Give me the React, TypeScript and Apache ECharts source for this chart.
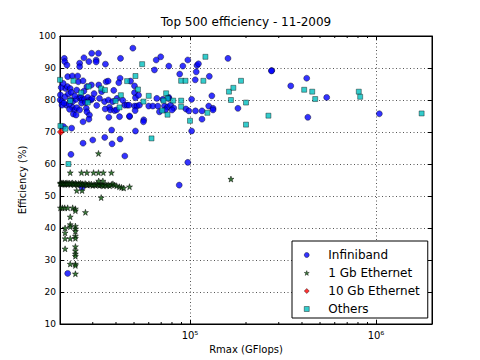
import React, { useEffect, useRef } from "react";
import * as echarts from "echarts";

const seriesNames = ["Infiniband", "1 Gb Ethernet", "10 Gb Ethernet", "Others"];
const yTicks = [10, 20, 30, 40, 50, 60, 70, 80, 90, 100];
const xMinorTicks = [30000, 40000, 50000, 60000, 70000, 80000, 90000, 200000, 300000, 400000, 500000, 600000, 700000, 800000, 900000];

// [Rmax (GFlops), Efficiency (%)]
const infiniband: number[][] = [
  [21100, 93.0], [21200, 92.0], [21800, 90.9], [25500, 91.5], [25500, 90.4], [26900, 93.2], [28600, 92.0],
  [29600, 94.6], [32200, 94.6], [31300, 92.5], [31300, 91.9], [35100, 91.2], [49300, 96.2], [42300, 93.0],
  [65800, 92.5], [69600, 93.5], [76900, 90.6], [91500, 90.6], [97300, 92.5], [160000, 93.0],
  [106700, 86.3], [108000, 88.8], [109000, 90.8], [111000, 91.3], [88000, 88.1], [127000, 87.4],
  [275000, 89.2], [274000, 89.1], [348000, 84.4], [424000, 86.8], [543000, 80.8], [1042000, 75.7],
  [430000, 74.6], [181000, 77.4], [131000, 81.3], [102000, 80.2], [76900, 80.8],
  [72900, 78.1], [75700, 77.8], [78600, 78.4], [81800, 77.5], [73800, 76.9], [80100, 76.9], [95000, 77.2],
  [98500, 76.6], [107000, 76.6], [116000, 76.6], [126000, 78.1], [133000, 77.4], [133000, 76.9],
  [116000, 74.0], [102000, 70.3], [97300, 60.5], [87500, 53.4],
  [21400, 83.6], [21900, 84.2], [22700, 83.6], [24600, 83.1], [25100, 85.7], [22000, 87.3], [23300, 87.5],
  [24900, 87.5], [26900, 82.8], [27900, 84.2], [29500, 84.7], [32300, 84.7], [35400, 85.7], [36300, 85.9],
  [42100, 86.8], [41400, 85.4], [47900, 85.9],
  [20100, 81.6], [20050, 80.0], [20500, 79.5], [21300, 81.0], [22200, 81.9], [22800, 80.0], [23400, 79.5],
  [24400, 80.2], [25500, 80.8], [26000, 80.8], [26300, 80.0], [27100, 80.2], [28200, 80.8], [28800, 80.0],
  [29400, 80.0], [29800, 80.5], [26100, 79.0], [27400, 79.2], [32600, 80.5], [34700, 79.5], [36400, 80.0],
  [38400, 79.5], [44600, 78.4], [45900, 78.4], [47000, 78.4], [50300, 78.1], [51800, 78.1], [53500, 78.4],
  [60000, 78.1], [63100, 78.1], [67100, 78.1], [71400, 80.2],
  [21600, 78.4], [23300, 77.7], [23900, 76.9], [24600, 77.6], [25500, 76.9], [23600, 75.6], [24400, 75.3],
  [22500, 77.1], [27700, 77.4], [27900, 76.3], [28800, 75.3], [28600, 74.0], [26600, 73.2], [36900, 77.7],
  [37300, 76.9], [39300, 76.7], [40300, 76.9], [36600, 74.6], [41800, 74.8], [50700, 76.7], [47300, 74.8],
  [56400, 73.8],
  [30000, 67.5], [38100, 66.3], [42100, 67.8], [50900, 70.3], [37900, 70.6], [44600, 62.5], [22900, 63.0],
  [23100, 71.2], [20900, 71.7], [22000, 25.8], [26600, 66.5], [34800, 68.3], [20500, 78.4],
  [64400, 89.4], [50300, 84.4], [50300, 82.3], [50900, 80.7], [52900, 81.5], [66300, 80.5], [76700, 80.5],
  [68500, 76.3], [56200, 73.2], [47300, 75.0], [26300, 52.7],
  [20300, 83.9], [20800, 85.2], [21000, 79.0], [22400, 78.7], [23000, 82.4], [24000, 81.3], [26600, 86.0],
  [30500, 82.0], [31500, 78.3], [33500, 82.6], [35000, 77.2], [38900, 83.0], [40500, 80.5], [43500, 79.9]
];

const gigabit: number[][] = [
  [20050, 53.9], [20200, 54.1], [20350, 53.8], [20500, 54.0], [20650, 53.7], [20800, 54.1], [21000, 53.9],
  [21200, 53.6], [21400, 54.0], [21600, 53.8], [21800, 54.1], [22000, 53.7], [22200, 53.9], [22500, 54.0],
  [22800, 53.6], [23000, 53.9], [23300, 54.1], [23600, 53.8], [23900, 53.6], [24200, 54.0], [24500, 53.8],
  [24800, 53.5], [25100, 53.9], [25400, 53.7], [25800, 54.0], [26100, 53.6], [26500, 53.8], [26900, 53.5],
  [27300, 53.9], [27700, 53.6], [28100, 53.4], [28600, 53.8], [29000, 53.5], [29500, 53.7], [30000, 53.3],
  [30500, 53.6], [31000, 53.4], [31500, 53.8], [32000, 53.5], [32600, 53.3], [33100, 53.6], [33700, 53.4],
  [34300, 53.2], [35000, 53.7], [35600, 53.3], [36300, 53.5], [37000, 53.2], [37800, 53.6], [38500, 53.8],
  [39200, 53.4], [40300, 53.2], [41700, 52.9], [42800, 52.7], [44000, 52.5], [47300, 52.9],
  [22700, 57.3], [26100, 57.3], [27900, 57.3], [30300, 57.3], [32200, 57.3], [34200, 57.3], [37800, 57.3],
  [32200, 63.3], [32300, 54.7], [34000, 54.7], [24600, 51.7], [26300, 51.7], [33300, 49.5], [27400, 44.9],
  [20100, 46.3], [20600, 46.3], [21200, 46.3], [22000, 46.3], [23400, 46.3], [24200, 46.0], [24200, 45.4],
  [22700, 43.5], [22700, 41.1], [22700, 40.4], [21300, 40.0], [24200, 40.6], [24200, 39.8], [21300, 38.5],
  [24200, 39.0], [24200, 37.5], [24200, 36.8], [21300, 36.7], [22700, 36.7], [21300, 33.5], [24200, 34.2],
  [24200, 32.9], [24200, 31.9], [24200, 31.2], [22700, 28.75], [24200, 28.75], [24200, 28.3], [24200, 25.7],
  [166000, 55.3]
];

const tenGigabit: number[][] = [[20200, 70.0]];

const others: number[][] = [
  [20000, 86.3], [23600, 86.0], [26000, 82.3], [28500, 84.2], [33300, 83.6], [34900, 83.1], [45900, 85.9],
  [50900, 87.5], [55300, 91.2], [22700, 79.7], [28200, 79.2], [39800, 79.7], [42500, 81.5], [56200, 79.5],
  [60000, 81.3], [21400, 71.0], [20100, 71.9], [62100, 68.0], [22200, 60.0], [74400, 82.1], [75700, 80.5],
  [72000, 79.8], [81200, 79.8], [89600, 79.8], [89600, 77.9], [75700, 75.4], [70900, 76.7], [124000, 76.0],
  [100000, 73.5], [89600, 86.0], [94600, 86.0], [118000, 86.0], [121000, 93.5], [188000, 86.0],
  [162000, 82.6], [171000, 83.8], [166000, 80.0], [200000, 79.2], [200000, 72.3], [264000, 75.1],
  [411000, 83.2], [454000, 82.6], [471000, 80.3], [808000, 82.6], [822000, 81.0], [1759000, 75.8],
  [52500, 83.3], [41800, 77.7]
];

const STAR = "path://M50,0 L61.8,35.1 L97.6,34.5 L69.1,56.7 L79.4,90.5 L50,70 L20.6,90.5 L30.9,56.7 L2.4,34.5 L38.2,35.1 Z";
const FONT = "DejaVu Sans";
const SUP: Record<string, string> = { "0": "⁰", "1": "¹", "2": "²", "3": "³", "4": "⁴", "5": "⁵", "6": "⁶", "7": "⁷", "8": "⁸", "9": "⁹" };
const symbols = ["circle", STAR, "diamond", "rect"];

export default function App() {
  const ref = useRef<HTMLDivElement>(null);
  useEffect(() => {
    if (!ref.current) return;
    const chart = echarts.init(ref.current, null, { renderer: "svg" });
    const edge = { borderColor: "#000", borderWidth: 0.5 };
    const option: any = {
      animation: false,
      backgroundColor: "#fff",
      title: {
        text: "Top 500 efficiency - 11-2009",
        left: 246,
        top: 16,
        padding: 0,
        textAlign: "center",
        textStyle: { fontFamily: FONT, fontSize: 12, fontWeight: "normal", color: "#000" },
      },
      grid: { left: 60, top: 36, width: 372, height: 288, show: true, borderColor: "#000", borderWidth: 1, backgroundColor: "transparent" },
      legend: {
        data: seriesNames.map((n, i) => ({ name: n, icon: symbols[i] })),
        orient: "vertical",
        left: 292,
        top: 241,
        padding: [8, 8, 3, 12],
        itemWidth: 5,
        itemHeight: 5,
        itemGap: 6,
        symbolKeepAspect: true,
        itemStyle: { borderColor: "#000", borderWidth: 0.5 },
        borderColor: "#000",
        borderWidth: 1,
        borderRadius: 0,
        backgroundColor: "#fff",
        textStyle: { fontFamily: FONT, fontSize: 12, color: "#000", padding: [0, 0, 0, 14] },
      },
      xAxis: [
        {
          type: "log",
          logBase: 10,
          min: 20000,
          max: 2000000,
          name: "Rmax (GFlops)",
          nameLocation: "middle",
          nameGap: 19,
          nameTextStyle: { fontFamily: FONT, fontSize: 10, color: "#000" },
          axisLine: { show: true, lineStyle: { color: "#000", width: 1 } },
          axisTick: { show: true, inside: true, length: 4, lineStyle: { color: "#000" } },
          axisLabel: {
            margin: 6,
            fontFamily: FONT,
            fontSize: 10,
            color: "#000",
            showMinLabel: false,
            showMaxLabel: false,
            formatter: (v: number) => {
              const e = Math.log10(v);
              const r = Math.round(e);
              if (Math.abs(e - r) > 1e-6) return "";
              return "10" + String(r).split("").map((c) => SUP[c] || c).join("");
            },
          },
          splitLine: { show: true, lineStyle: { color: "#555", width: 1, type: [1, 2.5] } },
        },
        {
          type: "log",
          logBase: 10,
          min: 20000,
          max: 2000000,
          position: "top",
          axisLine: { show: true, lineStyle: { color: "#000", width: 1 } },
          axisTick: { show: true, inside: true, length: 4, lineStyle: { color: "#000" } },
          axisLabel: { show: false },
          splitLine: { show: false },
        },
      ],
      yAxis: [
        {
          type: "value",
          min: yTicks[0],
          max: yTicks[yTicks.length - 1],
          interval: 10,
          name: "Efficiency (%)",
          nameLocation: "middle",
          nameGap: 26,
          nameRotate: 90,
          nameTextStyle: { fontFamily: FONT, fontSize: 10, color: "#000" },
          axisLine: { show: true, lineStyle: { color: "#000", width: 1 } },
          axisTick: { show: true, inside: true, length: 4, lineStyle: { color: "#000" } },
          axisLabel: { margin: 4, fontFamily: FONT, fontSize: 9, color: "#000" },
          splitLine: { show: true, lineStyle: { color: "#555", width: 1, type: [1, 2.5] } },
        },
        {
          type: "value",
          min: yTicks[0],
          max: yTicks[yTicks.length - 1],
          interval: 10,
          position: "right",
          axisLine: { show: true, lineStyle: { color: "#000", width: 1 } },
          axisTick: { show: true, inside: true, length: 4, lineStyle: { color: "#000" } },
          axisLabel: { show: false },
          splitLine: { show: false },
        },
      ],
      series: [
        {
          name: seriesNames[0],
          type: "scatter",
          symbol: symbols[0],
          symbolSize: 6,
          data: infiniband,
          itemStyle: { color: "#0000ff", ...edge },
        },
        {
          name: seriesNames[1],
          type: "scatter",
          symbol: symbols[1],
          symbolSize: 6,
          data: gigabit,
          itemStyle: { color: "#0b5a0b", borderColor: "#000", borderWidth: 0.6 },
        },
        {
          name: seriesNames[2],
          type: "scatter",
          symbol: symbols[2],
          symbolSize: 7,
          data: tenGigabit,
          itemStyle: { color: "#ff0000", ...edge },
        },
        {
          name: seriesNames[3],
          type: "scatter",
          symbol: symbols[3],
          symbolSize: 5,
          data: others,
          itemStyle: { color: "#00bfbf", ...edge },
        },
        {
          type: "custom",
          silent: true,
          clip: false,
          z: 5,
          data: xMinorTicks.map((v) => [v, yTicks[0]]),
          renderItem: (params: any, api: any) => {
            const b = api.coord([api.value(0), yTicks[0]]);
            const t = api.coord([api.value(0), yTicks[yTicks.length - 1]]);
            return {
              type: "group",
              children: [
                { type: "line", shape: { x1: b[0], y1: b[1], x2: b[0], y2: b[1] - 2 }, style: { stroke: "#000", lineWidth: 1 } },
                { type: "line", shape: { x1: t[0], y1: t[1], x2: t[0], y2: t[1] + 2 }, style: { stroke: "#000", lineWidth: 1 } },
              ],
            };
          },
        },
      ],
    };
    chart.setOption(option);
    return () => chart.dispose();
  }, []);
  return <div ref={ref} style={{ width: 480, height: 360, position: "absolute", left: 0, top: 0 }} />;
}
